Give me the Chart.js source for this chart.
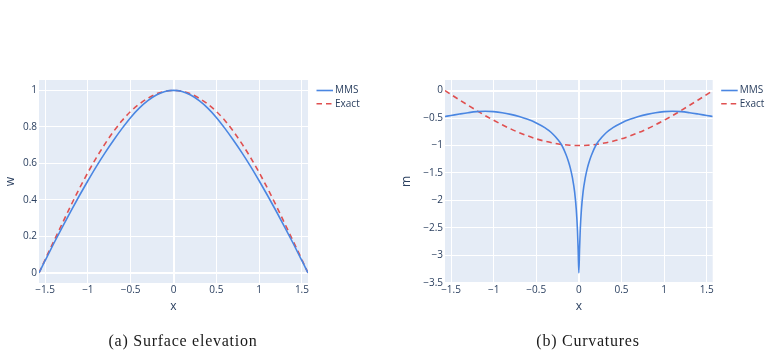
<!DOCTYPE html>
<html>
<head>
<meta charset="utf-8">
<script src="https://cdn.jsdelivr.net/npm/chart.js@4.4.1/dist/chart.umd.min.js"></script>
<style>
  html, body { margin: 0; padding: 0; background: #ffffff; }
  body { width: 771px; height: 361px; position: relative; overflow: hidden; }
  canvas { position: absolute; top: 0; }
  #c1 { left: 0; }
  #c2 { left: 385px; }
  .cap { position: absolute; top: 332px; font-family: "Liberation Serif", "DejaVu Serif", serif;
         font-size: 16px; color: #1a1a1a; white-space: nowrap; transform: translateX(-50%); letter-spacing: 0.75px; }
</style>
</head>
<body>
<canvas id="c1" width="385" height="361"></canvas>
<canvas id="c2" width="386" height="361"></canvas>
<div class="cap" style="left:183px">(a) Surface elevation</div>
<div class="cap" style="left:588px">(b) Curvatures</div>
<script>
// ---- Data ----
const seriesNames = ['MMS', 'Exact'];

// (a) Surface elevation
const xW = [-1.571,-1.5,-1.4,-1.3,-1.2,-1.1,-1.0,-0.9,-0.8,-0.7,-0.6,-0.5,-0.4,-0.3,-0.2,-0.1,0,
            0.1,0.2,0.3,0.4,0.5,0.6,0.7,0.8,0.9,1.0,1.1,1.2,1.3,1.4,1.5,1.571];
const wMMS = [0,0.067,0.160,0.250,0.338,0.423,0.505,0.584,0.658,0.727,0.792,0.852,0.903,0.944,0.975,0.994,1.0,
              0.994,0.975,0.944,0.903,0.852,0.792,0.727,0.658,0.584,0.505,0.423,0.338,0.250,0.160,0.067,0];
const wExact = [0,0.072,0.172,0.270,0.368,0.462,0.550,0.632,0.707,0.775,0.835,0.885,0.925,0.957,0.981,0.995,1.0,
                0.995,0.981,0.957,0.925,0.885,0.835,0.775,0.707,0.632,0.550,0.462,0.368,0.270,0.172,0.072,0];

// (b) Curvatures
const xMmms = [-1.571,-1.5,-1.4,-1.3,-1.2,-1.1,-1.0,-0.9,-0.8,-0.7,-0.6,-0.5,-0.4,-0.35,-0.3,-0.25,-0.2,-0.15,-0.125,-0.1,-0.075,-0.05,-0.03,-0.016,-0.008,0,
               0.008,0.016,0.03,0.05,0.075,0.1,0.125,0.15,0.2,0.25,0.3,0.35,0.4,0.5,0.6,0.7,0.8,0.9,1.0,1.1,1.2,1.3,1.4,1.5,1.571];
const mMMS = [-0.470,-0.452,-0.426,-0.402,-0.383,-0.376,-0.383,-0.402,-0.432,-0.472,-0.523,-0.588,-0.673,-0.730,-0.800,-0.885,-0.995,-1.168,-1.277,-1.411,-1.590,-1.840,-2.170,-2.550,-2.900,-3.320,
              -2.900,-2.550,-2.170,-1.840,-1.590,-1.411,-1.277,-1.168,-0.995,-0.885,-0.800,-0.730,-0.673,-0.588,-0.523,-0.472,-0.432,-0.402,-0.383,-0.376,-0.383,-0.402,-0.426,-0.452,-0.470];
const xMexact = xW;
const mExact = [0,-0.071,-0.170,-0.267,-0.362,-0.454,-0.540,-0.622,-0.697,-0.765,-0.825,-0.878,-0.921,-0.955,-0.980,-0.995,-1.0,
                -0.995,-0.980,-0.955,-0.921,-0.878,-0.825,-0.765,-0.697,-0.622,-0.540,-0.454,-0.362,-0.267,-0.170,-0.071,0];

// Ticks
const xTicks = [-1.5,-1,-0.5,0,0.5,1,1.5];
const xTickLabels = ['\u22121.5','\u22121','\u22120.5','0','0.5','1','1.5'];
const wTicks = [0,0.2,0.4,0.6,0.8,1];
const wTickLabels = ['0','0.2','0.4','0.6','0.8','1'];
const mTicks = [0,-0.5,-1,-1.5,-2,-2.5,-3,-3.5];
const mTickLabels = ['0','\u22120.5','\u22121','\u22121.5','\u22122','\u22122.5','\u22123','\u22123.5'];

// ---- Styling ----
const BLUE = '#4a86e2';
const RED = '#e05050';
const TXT = '#2a3f5f';
const FONT = '"Open Sans", "Noto Sans", sans-serif';

function pts(xs, ys) { return xs.map((x, i) => ({x: x, y: ys[i]})); }

const bgPlugin = {
  id: 'plotBg',
  beforeDraw(chart) {
    const a = chart.chartArea, ctx = chart.ctx;
    ctx.save();
    ctx.fillStyle = '#e5ecf6';
    ctx.fillRect(a.left, a.top, a.right - a.left, a.bottom - a.top);
    ctx.restore();
  }
};

const legendPlugin = {
  id: 'plotLegend',
  afterDraw(chart) {
    const ctx = chart.ctx, a = chart.chartArea;
    chart.data.datasets.forEach((ds, i) => {
      const y = 90.5 + i * 13.2;
      ctx.save();
      ctx.strokeStyle = ds.borderColor;
      ctx.lineWidth = ds.borderWidth;
      ctx.setLineDash(ds.borderDash || []);
      ctx.beginPath();
      ctx.moveTo(a.right + 8.5, y);
      ctx.lineTo(a.right + 25, y);
      ctx.stroke();
      ctx.setLineDash([]);
      ctx.fillStyle = TXT;
      ctx.font = '10px ' + FONT;
      ctx.textBaseline = 'middle';
      ctx.textAlign = 'left';
      ctx.fillText(ds.label, a.right + 27, y);
      ctx.restore();
    });
  }
};

function makeChart(id, cfg) {
  const labelFor = (vals, labs) => (v) => {
    const k = vals.findIndex(t => Math.abs(t - v) < 1e-9);
    return k >= 0 ? labs[k] : '';
  };
  const gridLW = (c) => (c.tick && Math.abs(c.tick.value) < 1e-9) ? 2 : 1;
  return new Chart(document.getElementById(id), {
    type: 'scatter',
    data: {
      datasets: [
        { label: seriesNames[0], data: pts(cfg.x1, cfg.y1), showLine: true, borderColor: BLUE,
          borderWidth: 1.6, pointRadius: 0, cubicInterpolationMode: 'monotone' },
        { label: seriesNames[1], data: pts(cfg.x2, cfg.y2), showLine: true, borderColor: RED,
          borderWidth: 1.6, borderDash: [5.5, 4], pointRadius: 0, cubicInterpolationMode: 'monotone' }
      ]
    },
    options: {
      responsive: false,
      animation: false,
      devicePixelRatio: 1,
      layout: { padding: cfg.pad },
      plugins: { legend: { display: false }, tooltip: { enabled: false } },
      scales: {
        x: {
          type: 'linear', min: -1.5708, max: 1.5708,
          afterBuildTicks: (s) => { s.ticks = xTicks.map(v => ({value: v})); },
          afterFit: (s) => { s.height = 31; },
          ticks: { callback: labelFor(xTicks, xTickLabels), color: TXT, font: { family: FONT, size: 10 },
                   padding: 1, maxRotation: 0, autoSkip: false },
          grid: { color: '#ffffff', lineWidth: gridLW, drawTicks: false },
          border: { display: false },
          title: { display: true, text: 'x', color: TXT, font: { family: FONT, size: 12 }, padding: 0 }
        },
        y: {
          type: 'linear', min: cfg.ymin, max: cfg.ymax,
          afterBuildTicks: (s) => { s.ticks = cfg.yt.map(v => ({value: v})); },
          afterFit: (s) => { s.width = cfg.yw; },
          ticks: { callback: labelFor(cfg.yt, cfg.yl), color: TXT, font: { family: FONT, size: 10 },
                   padding: 2, autoSkip: false },
          grid: { color: '#ffffff', lineWidth: gridLW, drawTicks: false },
          border: { display: false },
          title: { display: true, text: cfg.ytitle, color: TXT, font: { family: FONT, size: 12 },
                   padding: { top: cfg.tpad, bottom: 0 } }
        }
      }
    },
    plugins: [bgPlugin, legendPlugin]
  });
}

makeChart('c1', {
  x1: xW, y1: wMMS, x2: xW, y2: wExact,
  ymin: -0.055, ymax: 1.057, yt: wTicks, yl: wTickLabels, ytitle: 'w',
  yw: 39, tpad: 3, pad: { left: 0, right: 77, top: 80, bottom: 47 }
});
makeChart('c2', {
  x1: xMmms, y1: mMMS, x2: xMexact, y2: mExact,
  ymin: -3.505, ymax: 0.194, yt: mTicks, yl: mTickLabels, ytitle: 'm',
  yw: 60, tpad: 14.5, pad: { left: 0, right: 58.3, top: 80, bottom: 47 }
});
</script>
</body>
</html>
